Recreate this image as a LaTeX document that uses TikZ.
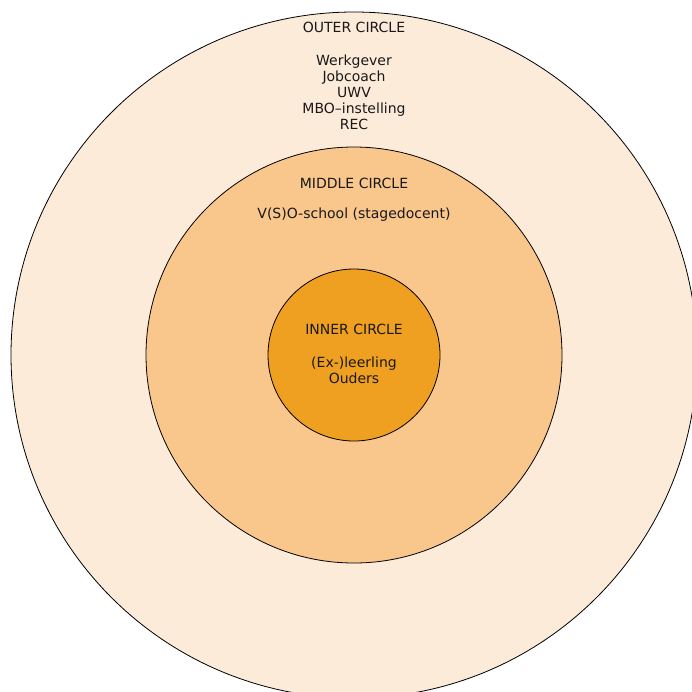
\documentclass[tikz,border=0pt]{standalone}
\usepackage{fontspec}
\setmainfont{DejaVu Sans}
\usetikzlibrary{positioning}

\definecolor{outerfill}{HTML}{FDEBDA}
\definecolor{middlefill}{HTML}{F9C68C}
\definecolor{innerfill}{HTML}{F0A020}

\begin{document}
\begin{tikzpicture}[
            x=1pt, y=-1pt,
            % --- styles ---
            ring/.style={circle, draw=black, line width=0.8pt, inner sep=0pt},
            label/.style={font=\fontsize{14}{16}\selectfont, align=center, inner sep=0pt, text=black!90}
        ]
    \useasboundingbox (0,0) rectangle (692,691);
    \clip (0,0) rectangle (692,691);

    % --- circles ---
    \node[ring, fill=outerfill, minimum size=686pt] (outer) at (354,355) {};
    \node[ring, fill=middlefill, minimum size=416pt] (middle) at (354,355) {};
    \node[ring, fill=innerfill, minimum size=172pt] (inner) at (354,355) {};

    % --- texts ---
    \node[label] (outertitle) at (354,27) {OUTER CIRCLE};
    \node[label] (outerlist) at (354,92) {Werkgever\\Jobcoach\\UWV\\MBO–instelling\\REC};
    \node[label] (middletitle) at (354,183) {MIDDLE CIRCLE};
    \node[label] (middlelist) at (354,215) {V(S)O-school (stagedocent)};
    \node[label] (innertitle) at (354,329) {INNER CIRCLE};
    \node[label] (innerlist) at (354,370) {(Ex-)leerling\\Ouders};

\end{tikzpicture}
\end{document}
